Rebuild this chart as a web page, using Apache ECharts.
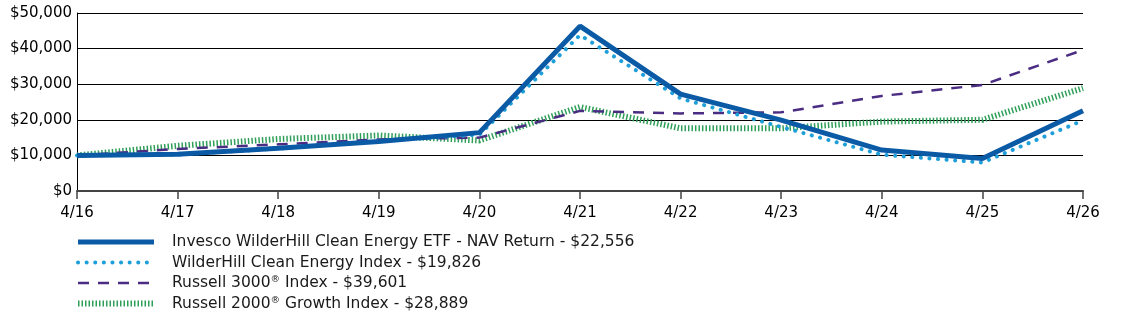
<!DOCTYPE html>
<html>
<head>
<meta charset="utf-8">
<script src="https://cdn.jsdelivr.net/npm/echarts@6/dist/echarts.min.js"></script>
<style>
  html, body { margin: 0; padding: 0; background: #fff; }
  #chart { width: 1123px; height: 327px; }
</style>
</head>
<body>
<div id="chart"></div>
<script>
// growth of $10,000 over ten years
var years = ['4/16', '4/17', '4/18', '4/19', '4/20', '4/21', '4/22', '4/23', '4/24', '4/25', '4/26'];
var navReturn = [10000, 10300, 12000, 13900, 16400, 46300, 27200, 19900, 11500, 9100, 22556];
var wilderIndex = [10000, 10200, 11900, 14000, 15800, 43800, 26000, 18000, 10200, 8000, 19826];
var russell3000 = [10000, 11800, 13100, 14500, 15000, 22500, 21800, 22100, 26700, 29800, 39601];
var russell2000g = [10000, 12700, 14600, 15600, 14200, 23600, 17600, 17600, 19500, 20000, 28889];

var names = [
    'Invesco WilderHill Clean Energy ETF - NAV Return - $22,556',
    'WilderHill Clean Energy Index - $19,826',
    'Russell 3000\u00AE Index - $39,601',
    'Russell 2000\u00AE Growth Index - $28,889'
];

// line looks, shared by the series and their legend icons
var styles = [
    { color: '#0b5aa6', width: 5, type: 'solid' },
    { color: '#1e9fd9', width: 4, type: [0.1, 8.5], cap: 'round' },
    { color: '#4a2d82', width: 2.5, type: [11, 9] },
    { color: '#2f9e58', width: 6, type: [1.5, 2], cap: 'butt' }
];
var values = [navReturn, wilderIndex, russell3000, russell2000g];

var chart = echarts.init(document.getElementById('chart'));

function money(v){
    return '$' + v.toString().replace(/\B(?=(\d{3})+(?!\d))/g, ',');
}

var series = [];
for (var i = names.length - 1; i >= 0; i--) {
    series.push({
        name: names[i],
        type: 'line',
        data: values[i],
        symbol: 'none',
        z: 5 - i,
        itemStyle: { color: styles[i].color },
        lineStyle: styles[i]
    });
}

var legendData = names.map(function(n, i){
    return { name: n, lineStyle: styles[i], itemStyle: { opacity: 0 } };
});

var option = {
    animation: false,
    backgroundColor: '#fff',
    grid: { left: 77, right: 40, top: 13, bottom: 136 },
    legend: {
        orient: 'vertical',
        left: 70,
        top: 229,
        itemWidth: 76,
        itemHeight: 14,
        itemGap: 4.5,
        data: legendData,
        formatter: function(n){ return n.replace('\u00AE', '{sup|\u00AE}'); },
        textStyle: {
            fontFamily: 'DejaVu Sans',
            fontSize: 15.5,
            lineHeight: 16,
            color: '#1a1a1a',
            padding: [0, 0, 0, 13],
            rich: {
                sup: { fontFamily: 'DejaVu Sans', fontSize: 9.5, lineHeight: 16, verticalAlign: 'top', color: '#1a1a1a' }
            }
        }
    },
    xAxis: {
        type: 'category',
        data: years,
        boundaryGap: false,
        axisLine: { lineStyle: { color: '#444', width: 2 } },
        axisTick: { length: 8, lineStyle: { color: '#444', width: 1.5 } },
        axisLabel: { fontFamily: 'DejaVu Sans', fontSize: 15, color: '#000', margin: 15 }
    },
    yAxis: {
        type: 'value',
        min: 0,
        max: 50000,
        interval: 10000,
        axisLine: { show: true, lineStyle: { color: '#000', width: 1 } },
        axisTick: { show: false },
        splitLine: { lineStyle: { color: '#000', width: 1 } },
        axisLabel: {
            fontFamily: 'DejaVu Sans', fontSize: 15, color: '#000', margin: 5,
            formatter: money
        }
    },
    series: series
};

chart.setOption(option);
</script>
</body>
</html>
